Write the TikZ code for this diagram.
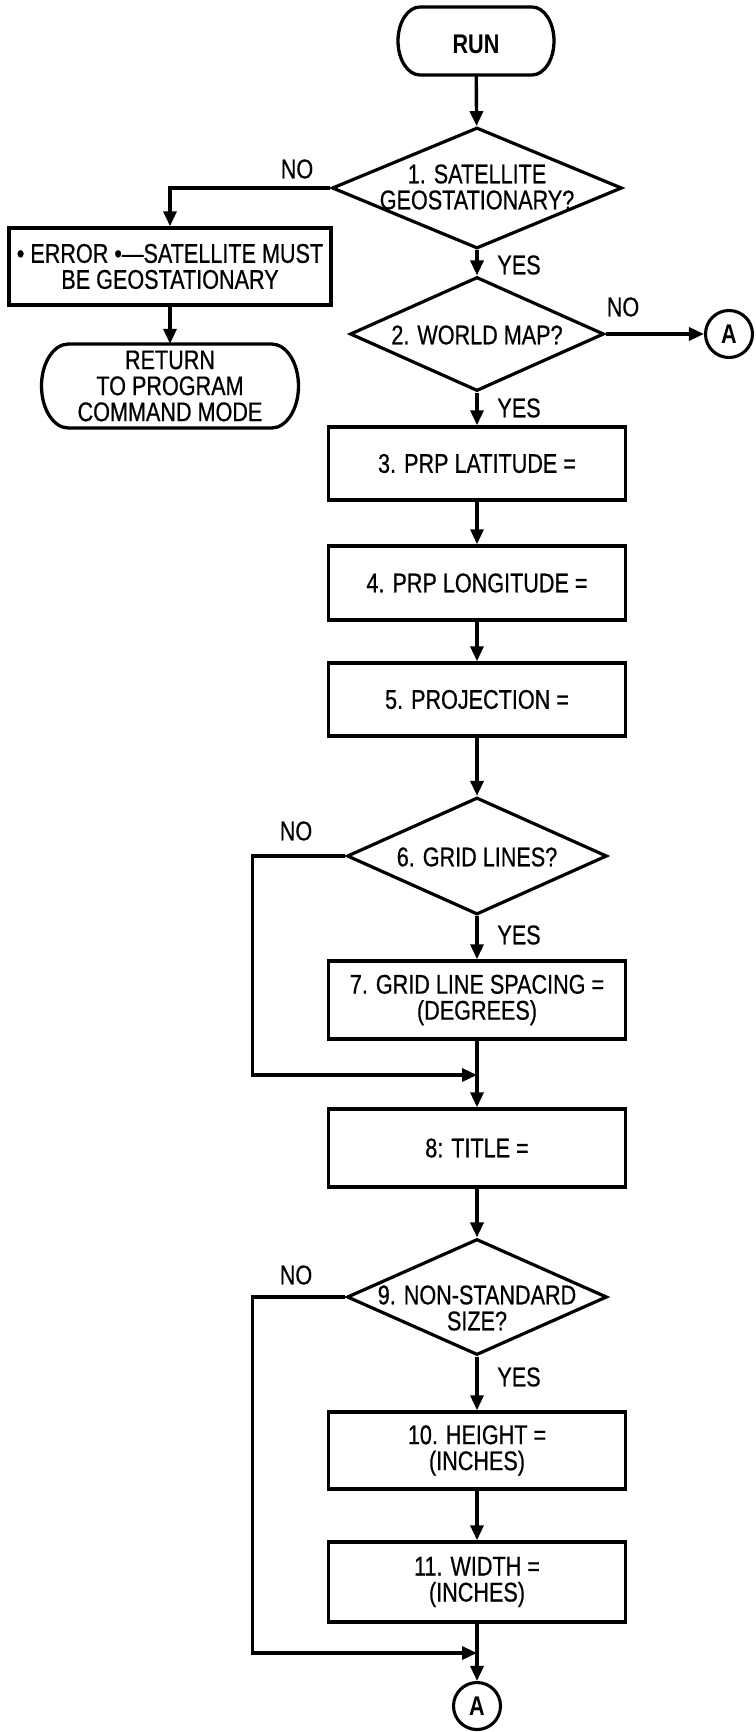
\documentclass[tikz,border=0pt]{standalone}
\usepackage{fontspec}
\setmainfont{Liberation Sans}[FakeStretch=0.8, UprightFeatures={FakeBold=0.6}]
\usetikzlibrary{shapes.geometric,arrows.meta}

\tikzset{
  x=1pt, y=1pt,
  flow/.style={line width=3.4pt},
  arr/.style={flow, -{Triangle[length=15pt,width=13pt]}},
  txt/.style={font=\fontsize{27}{26}\selectfont, align=center, inner sep=0pt},
  lbl/.style={txt},
  procbox/.style={txt, draw, line width=3.5pt, rectangle, minimum width=297pt},
  decision/.style={diamond, draw, line width=3.2pt, inner sep=0pt},
  termtext/.style={txt, rectangle},
  outline/.style={line width=3.3pt},
  connector/.style={circle, draw, line width=3.1pt, minimum size=47pt, inner sep=0pt,
                    font=\fontsize{27}{26}\selectfont\bfseries},
}

\begin{document}
\begin{tikzpicture}
\useasboundingbox (0,0) rectangle (755,-1732);
\fill[white] (0,0) rectangle (755,-1732);

% start terminal
\draw[outline] (420,-7) -- (532,-7)
  arc[start angle=90,end angle=-90,x radius=22,y radius=34] -- (420,-75)
  arc[start angle=270,end angle=90,x radius=22,y radius=34] -- cycle;
\node[termtext, minimum width=156pt, minimum height=68pt] (run) at (476,-41) {};
\node[txt] (runt) at (476,-44) {\bfseries RUN};

% decision 1
\node[decision, minimum width=290pt, minimum height=121pt] (d1) at (477,-188) {};
\node[txt] (d1t) at (477,-187) {1. SATELLITE\\GEOSTATIONARY?};

% error branch
\node[procbox, minimum width=322pt, minimum height=77pt] (err) at (170,-266.5)
  {• ERROR •—SATELLITE MUST\\BE GEOSTATIONARY};
\draw[outline] (68.5,-344) -- (271.5,-344)
  arc[start angle=90,end angle=-90,x radius=27,y radius=42] -- (68.5,-428)
  arc[start angle=270,end angle=90,x radius=27,y radius=42] -- cycle;
\node[termtext, minimum width=257pt, minimum height=84pt] (ret) at (170,-386)
  {RETURN\\TO PROGRAM\\COMMAND MODE};

% decision 2 and off-page connector
\node[decision, minimum width=254pt, minimum height=114pt] (d2) at (477,-334) {};
\node[txt] (d2t) at (477,-335) {2. WORLD MAP?};
\node[connector] (a1) at (729,-334) {A};

% main column
\node[procbox, minimum height=73pt] (b3) at (477,-463.5) {3. PRP LATITUDE =};
\node[procbox, minimum height=74pt] (b4) at (477,-583) {4. PRP LONGITUDE =};
\node[procbox, minimum height=73pt] (b5) at (477,-699.5) {5. PROJECTION =};
\node[decision, minimum width=260pt, minimum height=117pt] (d6) at (477,-856) {};
\node[txt] (d6t) at (477,-857) {6. GRID LINES?};
\node[procbox, minimum height=78pt] (b7) at (477,-1000) {7. GRID LINE SPACING =\\(DEGREES)};
\node[procbox, minimum height=78pt] (b8) at (477,-1148) {8: TITLE =};
\node[decision, minimum width=260pt, minimum height=116pt] (d9) at (477,-1297) {};
\node[txt] (d9t) at (477,-1308) {9. NON-STANDARD\\SIZE?};
\node[procbox, minimum height=77pt] (b10) at (477,-1450.5) {10. HEIGHT =\\(INCHES)};
\node[procbox, minimum height=80pt] (b11) at (477,-1582) {11. WIDTH =\\(INCHES)};
\node[connector] (a2) at (477,-1706) {A};

% merge points of the bypass loops
\coordinate (m6) at (477,-1075);
\coordinate (m9) at (477,-1653);

% connectors
\draw[arr] (run) -- (d1);
\draw[arr] (d1.west) -| (err.north);
\draw[arr] (err) -- (ret);
\draw[arr] (d1) -- (d2);
\draw[arr] (d2.east) -- (a1.west);
\draw[arr] (d2) -- (b3);
\draw[arr] (b3) -- (b4);
\draw[arr] (b4) -- (b5);
\draw[arr] (b5) -- (d6);
\draw[arr] (d6) -- (b7);
\draw[arr] (b7) -- (b8);
\draw[arr] (d6.west) -- ++(-93,0) |- (m6);
\draw[arr] (b8) -- (d9);
\draw[arr] (d9) -- (b10);
\draw[arr] (b10) -- (b11);
\draw[arr] (b11) -- (a2);
\draw[arr] (d9.west) -- ++(-93,0) |- (m9);

% branch labels
\node[lbl] (no1) at (297,-169) {NO};
\node[lbl] (yes1) at (519,-265) {YES};
\node[lbl] (no2) at (623,-307) {NO};
\node[lbl] (yes2) at (519,-408) {YES};
\node[lbl] (no6) at (296,-831) {NO};
\node[lbl] (yes6) at (519,-935) {YES};
\node[lbl] (no9) at (296,-1275) {NO};
\node[lbl] (yes9) at (519,-1377) {YES};
\end{tikzpicture}
\end{document}
